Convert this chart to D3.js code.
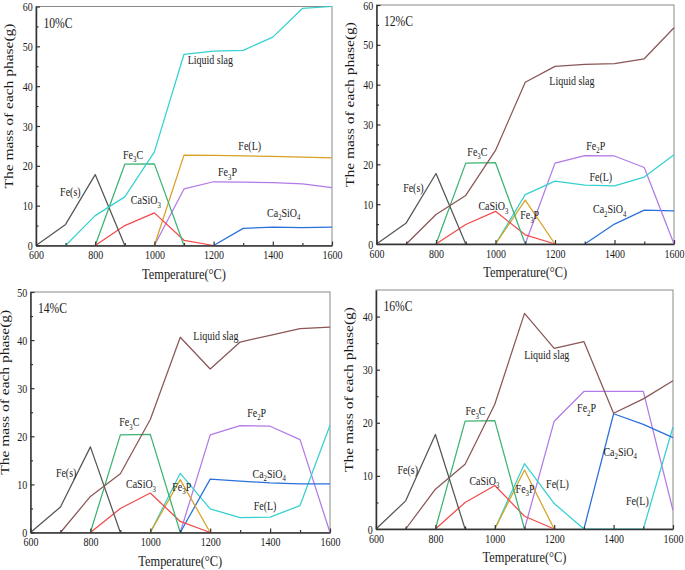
<!DOCTYPE html>
<html><head><meta charset="utf-8">
<script src="https://cdn.jsdelivr.net/npm/d3@7"></script>
<style>body{margin:0;background:#fff}svg{display:block}</style>
</head><body>
<svg id="c" width="685" height="570"></svg>
<script>
// ---------- DATA ----------
const temps = [600,700,800,900,1000,1100,1200,1300,1400,1500,1600];
const xTicks = [600,800,1000,1200,1400,1600];
const xMinor = [700,900,1100,1300,1500];
const panelTitles = ["10%C","12%C","14%C","16%C"];
const yMaxes = [60,60,50,45];
const yTicks1 = [0,10,20,30,40,50,60];
const yTicks3 = [0,10,20,30,40,50];
const yTicks4 = [0,10,20,30,40];
const _ = null;

// 10%C
const feS_10     = [0,5.3,17.8,0,_,_,_,_,_,_,_];
const slag_10    = [_,0,7.5,12.2,23.5,48.0,48.8,49.0,52.3,59.5,60.0];
const fe3c_10    = [_,_,0,20.4,20.5,0,_,_,_,_,_];
const casio3_10  = [_,_,0,5.0,8.2,1.3,0,_,_,_,_];
const feL_10     = [_,_,_,_,0,22.7,22.6,22.5,22.4,22.2,22.0];
const fe3p_10    = [_,_,_,_,0,14.2,16.0,15.9,15.8,15.5,14.5];
const ca2sio4_10 = [_,_,_,_,_,_,0,4.3,4.6,4.5,4.6];

// 12%C
const feS_12     = [0,5.3,17.7,0,_,_,_,_,_,_,_];
const slag_12    = [_,0,7.4,12.2,23.5,40.6,44.6,45.1,45.3,46.5,54.3];
const fe3c_12    = [_,_,0,20.3,20.4,0,_,_,_,_,_];
const casio3_12  = [_,_,0,4.9,8.2,2.3,0,_,_,_,_];
const feL_12     = [_,_,_,_,0,12.4,15.8,14.8,14.6,16.8,22.4];
const fe3p_12    = [_,_,_,_,0,11.0,0,_,_,_,_];
const fe2p_12    = [_,_,_,_,_,0,20.3,22.2,22.1,19.2,0];
const ca2sio4_12 = [_,_,_,_,_,_,_,0,5.0,8.5,8.3];

// 14%C
const feS_14     = [0,5.3,17.8,0,_,_,_,_,_,_,_];
const slag_14    = [_,0,7.5,12.2,23.5,40.6,34.0,39.6,41.0,42.4,42.7];
const fe3c_14    = [_,_,0,20.3,20.4,0,_,_,_,_,_];
const casio3_14  = [_,_,0,5.0,8.2,2.3,0,_,_,_,_];
const feL_14     = [_,_,_,_,0,12.3,4.9,3.1,3.2,5.6,22.3];
const fe3p_14    = [_,_,_,_,0,11.0,0,_,_,_,_];
const fe2p_14    = [_,_,_,_,_,0,20.3,22.2,22.1,19.3,0];
const ca2sio4_14 = [_,_,_,_,_,0,11.1,10.7,10.3,10.1,10.1];

// 16%C
const feS_16     = [0,5.3,17.8,0,_,_,_,_,_,_,_];
const slag_16    = [_,0,7.5,12.2,23.5,40.6,34.0,35.3,21.8,24.5,27.9];
const fe3c_16    = [_,_,0,20.3,20.4,0,_,_,_,_,_];
const casio3_16  = [_,_,0,5.0,8.2,2.4,0,_,_,_,_];
const feL_16     = [_,_,_,_,0,12.3,4.8,0,0,0,19.2];
const fe3p_16    = [_,_,_,_,0,11.1,0,_,_,_,_];
const fe2p_16    = [_,_,_,_,_,0,20.3,25.9,25.9,25.9,3.5];
const ca2sio4_16 = [_,_,_,_,_,_,_,0,21.7,19.7,17.2];

// Labels: [text, temperature, mass]  ("_n" => subscript n)
const labels_10 = [["Liquid slag",1189,45.5],["Fe_3C",928,21.8],["Fe(L)",1322,23.9],["Fe_3P",1247,17.4],
  ["Fe(s)",716,12.4],["CaSiO_3",971,10.3],["Ca_2SiO_4",1437,7.2]];
const labels_12 = [["Liquid slag",1257,40.0],["Fe_3C",939,22.1],["Fe_2P",1337,23.6],["Fe(L)",1354,15.9],
  ["Fe(s)",724,13.1],["CaSiO_3",993,8.5],["Fe_3P",1115,6.2],["Ca_2SiO_4",1384,7.7]];
const labels_14 = [["Liquid slag",1219,40.1],["Fe_3C",930,22.1],["Fe_2P",1355,24.1],["Ca_2SiO_4",1397,11.4],
  ["Fe(s)",719,11.5],["CaSiO_3",969,9.2],["Fe_3P",1105,8.7],["Fe(L)",1383,4.7]];
const labels_16 = [["Liquid slag",1175,32.0],["Fe_3C",935,21.4],["Fe_2P",1309,22.0],["Ca_2SiO_4",1422,13.8],
  ["Fe(s)",707,10.3],["CaSiO_3",965,8.3],["Fe_3P",1102,6.8],["Fe(L)",1211,7.8],["Fe(L)",1480,4.5]];

// ---------- STYLE ----------
const C = {gray:"#555555", cyan:"#36d0d0", brown:"#8a5656", green:"#3cb371", red:"#f24a4a",
           gold:"#d8a123", purple:"#b27ae8", blue:"#2a70dc"};

const panels = [
  {box:{l:36,r:332,t:6.5,b:245.5}, yTicks:yTicks1, labels:labels_10, yt:13,
   series:[[ca2sio4_10,C.blue],[fe3p_10,C.purple],[feL_10,C.gold],[casio3_10,C.red],[fe3c_10,C.green],[feS_10,C.gray],[slag_10,C.cyan]]},
  {box:{l:376.5,r:674,t:5,b:244}, yTicks:yTicks1, labels:labels_12, yt:354,
   series:[[ca2sio4_12,C.blue],[fe2p_12,C.purple],[feL_12,C.cyan],[fe3p_12,C.gold],[casio3_12,C.red],[fe3c_12,C.green],[feS_12,C.gray],[slag_12,C.brown]]},
  {box:{l:30.5,r:330,t:292,b:532.5}, yTicks:yTicks3, labels:labels_14, yt:9,
   series:[[fe2p_14,C.purple],[feL_14,C.cyan],[ca2sio4_14,C.blue],[fe3p_14,C.gold],[casio3_14,C.red],[fe3c_14,C.green],[feS_14,C.gray],[slag_14,C.brown]]},
  {box:{l:376,r:673,t:290,b:529}, yTicks:yTicks4, labels:labels_16, yt:353,
   series:[[fe2p_16,C.purple],[feL_16,C.cyan],[ca2sio4_16,C.blue],[fe3p_16,C.gold],[casio3_16,C.red],[fe3c_16,C.green],[feS_16,C.gray],[slag_16,C.brown]]}
];

const FONT = "'Liberation Serif','Times New Roman',serif";
const SX = 0.8;
const TXT = "#1a1a1a";
const svg = d3.select("#c");

function addText(g, str, x, y, size, anchor, rotate) {
  const t = g.append("text")
    .attr("transform", rotate ? `translate(${x},${y}) rotate(-90) scale(1,${SX})` : `translate(${x},${y}) scale(${SX},1)`)
    .attr("font-family", FONT).attr("font-size", size).attr("fill", TXT)
    .attr("text-anchor", anchor || "start");
  const parts = str.split(/(_\d)/).filter(s => s.length);
  let sub = false;
  parts.forEach(p => {
    if (p[0] === "_") {
      t.append("tspan").attr("font-size", size*0.68).attr("dy", size*0.28).text(p.slice(1));
      sub = true;
    } else {
      const ts = t.append("tspan").text(p);
      if (sub) { ts.attr("dy", -size*0.28); sub = false; }
    }
  });
  return t;
}

panels.forEach((P, i) => {
  const b = P.box;
  const x = d3.scaleLinear().domain([600,1600]).range([b.l, b.r]);
  const y = d3.scaleLinear().domain([0, yMaxes[i]]).range([b.b, b.t]);
  const g = svg.append("g");

  // frame
  g.append("rect").attr("x", b.l).attr("y", b.t).attr("width", b.r-b.l).attr("height", b.b-b.t)
    .attr("fill", "none").attr("stroke", "#8a8a8a").attr("stroke-width", 1);

  // lines
  const line = d3.line().defined(d => d[1] !== null).x(d => x(d[0])).y(d => y(d[1]));
  P.series.forEach(([vals, col]) => {
    g.append("path").datum(temps.map((t,k) => [t, vals[k]]))
      .attr("d", line).attr("fill", "none").attr("stroke", col).attr("stroke-width", 1.25)
      .attr("stroke-linejoin", "round");
  });

  // axes
  const styleAxis = a => {
    a.attr("font-family", null).attr("font-size", null);
    a.select(".domain").attr("stroke", "#333").attr("stroke-width", 1.5);
    a.selectAll(".tick line").attr("stroke", "#333").attr("stroke-width", 1.2);
  };
  const xa = g.append("g").attr("transform", `translate(0,${b.b})`)
    .call(d3.axisBottom(x).tickValues(xTicks).tickSize(-4).tickSizeOuter(0).tickPadding(5).tickFormat(d3.format("d")));
  styleAxis(xa);
  xa.selectAll(".tick text").attr("font-family", FONT).attr("font-size", 12.5).attr("fill", TXT)
    .attr("transform", `scale(${SX},1)`);
  const xm = g.append("g").attr("transform", `translate(0,${b.b})`)
    .call(d3.axisBottom(x).tickValues(xMinor).tickSize(-2.5).tickSizeOuter(0).tickFormat(""));
  styleAxis(xm); xm.select(".domain").remove();

  const ya = g.append("g").attr("transform", `translate(${b.l},0)`)
    .call(d3.axisLeft(y).tickValues(P.yTicks).tickSize(-4).tickSizeOuter(0).tickPadding(4).tickFormat(d3.format("d")));
  styleAxis(ya);
  ya.selectAll(".tick text").attr("font-family", FONT).attr("font-size", 12.5).attr("fill", TXT)
    .attr("transform", `scale(${SX},1)`);
  const yMinor = P.yTicks.slice(0,-1).map(v => v + 5);
  const ym = g.append("g").attr("transform", `translate(${b.l},0)`)
    .call(d3.axisLeft(y).tickValues(yMinor).tickSize(-2.5).tickSizeOuter(0).tickFormat(""));
  styleAxis(ym); ym.select(".domain").remove();

  // titles
  addText(g, "Temperature(°C)", (b.l+b.r)/2, b.b + 33, 15.5, "middle");
  addText(g, "The mass of each phase(g)", P.yt, (b.t+b.b)/2 - 20, 15.5, "middle", true);
  addText(g, panelTitles[i], x(625), y(yMaxes[i]) + 21, 14.5, "start");

  // series labels
  P.labels.forEach(([s, t, m]) => addText(g, s, x(t), y(m), 12.5, "middle"));
});
</script>
</body></html>
